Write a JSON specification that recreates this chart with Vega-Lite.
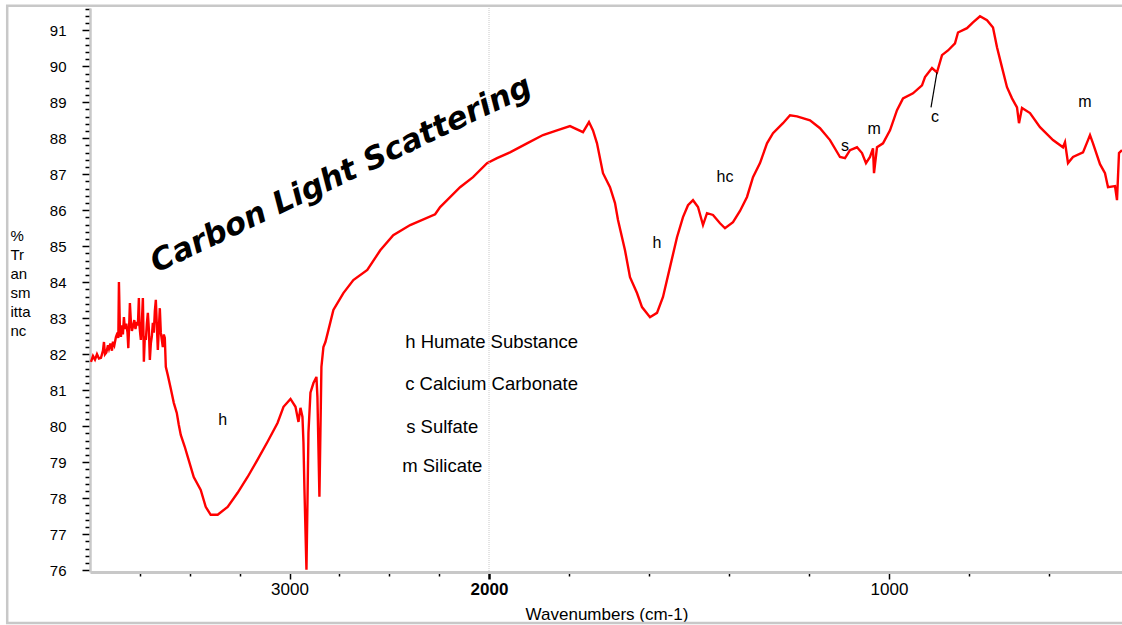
{
  "$schema": "https://vega.github.io/schema/vega-lite/v6.json",
  "width": 1032,
  "height": 564,
  "autosize": {"type": "none"},
  "padding": {"left": 90, "top": 8, "right": 0, "bottom": 53},
  "background": "white",
  "config": {"view": {"stroke": null}, "font": "Liberation Sans"},
  "datasets": {
    "spectrum": [
      {"wn": 3995, "T": 81.79}, {"wn": 3985, "T": 81.95}, {"wn": 3975, "T": 81.85}, {"wn": 3965, "T": 82.0}, {"wn": 3955, "T": 81.88},
      {"wn": 3945, "T": 81.9}, {"wn": 3935, "T": 82.1}, {"wn": 3930, "T": 82.34}, {"wn": 3925, "T": 82.0}, {"wn": 3918, "T": 82.05},
      {"wn": 3910, "T": 82.25}, {"wn": 3905, "T": 82.15}, {"wn": 3898, "T": 82.3}, {"wn": 3890, "T": 82.1}, {"wn": 3885, "T": 82.35},
      {"wn": 3878, "T": 82.25}, {"wn": 3870, "T": 82.48}, {"wn": 3862, "T": 82.6}, {"wn": 3858, "T": 82.45}, {"wn": 3855, "T": 84.01},
      {"wn": 3850, "T": 82.7}, {"wn": 3845, "T": 82.48}, {"wn": 3840, "T": 82.8}, {"wn": 3835, "T": 82.55}, {"wn": 3830, "T": 83.03},
      {"wn": 3825, "T": 82.7}, {"wn": 3818, "T": 82.85}, {"wn": 3812, "T": 82.6}, {"wn": 3808, "T": 82.17}, {"wn": 3804, "T": 82.75},
      {"wn": 3800, "T": 83.42}, {"wn": 3795, "T": 82.9}, {"wn": 3790, "T": 82.65}, {"wn": 3785, "T": 82.76}, {"wn": 3778, "T": 82.95},
      {"wn": 3772, "T": 82.7}, {"wn": 3766, "T": 82.9}, {"wn": 3760, "T": 82.8}, {"wn": 3755, "T": 83.56}, {"wn": 3752, "T": 82.8},
      {"wn": 3748, "T": 82.55}, {"wn": 3745, "T": 82.4}, {"wn": 3740, "T": 82.9}, {"wn": 3735, "T": 83.56}, {"wn": 3732, "T": 82.6},
      {"wn": 3730, "T": 81.79}, {"wn": 3725, "T": 82.5}, {"wn": 3720, "T": 82.4}, {"wn": 3715, "T": 82.85}, {"wn": 3710, "T": 83.15},
      {"wn": 3705, "T": 82.7}, {"wn": 3700, "T": 81.84}, {"wn": 3695, "T": 82.3}, {"wn": 3690, "T": 82.5}, {"wn": 3685, "T": 82.87},
      {"wn": 3680, "T": 82.6}, {"wn": 3675, "T": 83.2}, {"wn": 3670, "T": 83.51}, {"wn": 3665, "T": 82.8}, {"wn": 3660, "T": 82.12},
      {"wn": 3655, "T": 82.7}, {"wn": 3650, "T": 83.28}, {"wn": 3645, "T": 82.6}, {"wn": 3640, "T": 82.4}, {"wn": 3635, "T": 82.2},
      {"wn": 3630, "T": 82.55}, {"wn": 3625, "T": 82.45}, {"wn": 3620, "T": 81.65}, {"wn": 3610, "T": 81.42}, {"wn": 3595, "T": 81.04},
      {"wn": 3580, "T": 80.65}, {"wn": 3565, "T": 80.37}, {"wn": 3555, "T": 80.04}, {"wn": 3545, "T": 79.76}, {"wn": 3525, "T": 79.43},
      {"wn": 3510, "T": 79.15}, {"wn": 3480, "T": 78.59}, {"wn": 3445, "T": 78.23}, {"wn": 3420, "T": 77.76}, {"wn": 3395, "T": 77.54},
      {"wn": 3360, "T": 77.54}, {"wn": 3310, "T": 77.76}, {"wn": 3260, "T": 78.15}, {"wn": 3210, "T": 78.59}, {"wn": 3160, "T": 79.07},
      {"wn": 3110, "T": 79.57}, {"wn": 3060, "T": 80.09}, {"wn": 3030, "T": 80.54}, {"wn": 2995, "T": 80.76}, {"wn": 2970, "T": 80.54},
      {"wn": 2955, "T": 80.12}, {"wn": 2945, "T": 80.51}, {"wn": 2935, "T": 80.26}, {"wn": 2930, "T": 79.54}, {"wn": 2925, "T": 78.23},
      {"wn": 2915, "T": 76.01}, {"wn": 2910, "T": 77.87}, {"wn": 2905, "T": 79.82}, {"wn": 2895, "T": 80.93}, {"wn": 2880, "T": 81.2},
      {"wn": 2865, "T": 81.37}, {"wn": 2860, "T": 80.81}, {"wn": 2850, "T": 78.04}, {"wn": 2840, "T": 81.65}, {"wn": 2830, "T": 82.2},
      {"wn": 2820, "T": 82.34}, {"wn": 2805, "T": 82.67}, {"wn": 2780, "T": 83.23}, {"wn": 2730, "T": 83.7}, {"wn": 2680, "T": 84.06},
      {"wn": 2610, "T": 84.34}, {"wn": 2545, "T": 84.89}, {"wn": 2480, "T": 85.31}, {"wn": 2395, "T": 85.59}, {"wn": 2270, "T": 85.89},
      {"wn": 2245, "T": 86.09}, {"wn": 2210, "T": 86.28}, {"wn": 2145, "T": 86.64}, {"wn": 2080, "T": 86.92}, {"wn": 2010, "T": 87.31},
      {"wn": 1980, "T": 87.45}, {"wn": 1947.5, "T": 87.61}, {"wn": 1905, "T": 87.86}, {"wn": 1865, "T": 88.09}, {"wn": 1830, "T": 88.22},
      {"wn": 1797.5, "T": 88.34}, {"wn": 1765, "T": 88.17}, {"wn": 1750, "T": 88.45}, {"wn": 1740, "T": 88.22}, {"wn": 1730, "T": 87.86},
      {"wn": 1715, "T": 87.03}, {"wn": 1697.5, "T": 86.64}, {"wn": 1685, "T": 86.2}, {"wn": 1677.5, "T": 85.73}, {"wn": 1660, "T": 84.89},
      {"wn": 1647.5, "T": 84.14}, {"wn": 1630, "T": 83.7}, {"wn": 1617.5, "T": 83.31}, {"wn": 1597.5, "T": 83.03}, {"wn": 1580, "T": 83.15},
      {"wn": 1565, "T": 83.59}, {"wn": 1547.5, "T": 84.42}, {"wn": 1530, "T": 85.25}, {"wn": 1515, "T": 85.81}, {"wn": 1502.5, "T": 86.14},
      {"wn": 1490, "T": 86.28}, {"wn": 1477.5, "T": 86.09}, {"wn": 1465, "T": 85.59}, {"wn": 1455, "T": 85.92}, {"wn": 1440, "T": 85.87},
      {"wn": 1422.5, "T": 85.64}, {"wn": 1410, "T": 85.5}, {"wn": 1390, "T": 85.67}, {"wn": 1372.5, "T": 85.98}, {"wn": 1355, "T": 86.37},
      {"wn": 1340, "T": 86.92}, {"wn": 1322.5, "T": 87.31}, {"wn": 1305, "T": 87.86}, {"wn": 1290, "T": 88.14}, {"wn": 1265, "T": 88.42},
      {"wn": 1247.5, "T": 88.64}, {"wn": 1230, "T": 88.61}, {"wn": 1197.5, "T": 88.5}, {"wn": 1172.5, "T": 88.28}, {"wn": 1147.5, "T": 87.95},
      {"wn": 1122.5, "T": 87.48}, {"wn": 1110, "T": 87.45}, {"wn": 1097.5, "T": 87.67}, {"wn": 1080, "T": 87.75}, {"wn": 1067.5, "T": 87.59},
      {"wn": 1057.5, "T": 87.31}, {"wn": 1047.5, "T": 87.48}, {"wn": 1040, "T": 87.72}, {"wn": 1037.5, "T": 87.03}, {"wn": 1030, "T": 87.75},
      {"wn": 1015, "T": 87.86}, {"wn": 997.5, "T": 88.22}, {"wn": 980, "T": 88.78}, {"wn": 965, "T": 89.11}, {"wn": 940, "T": 89.25},
      {"wn": 917.5, "T": 89.47}, {"wn": 910, "T": 89.7}, {"wn": 892.5, "T": 89.95}, {"wn": 880, "T": 89.83}, {"wn": 867.5, "T": 90.31},
      {"wn": 852.5, "T": 90.44}, {"wn": 835, "T": 90.64}, {"wn": 827.5, "T": 90.94}, {"wn": 805, "T": 91.06}, {"wn": 790, "T": 91.22},
      {"wn": 772.5, "T": 91.39}, {"wn": 755, "T": 91.28}, {"wn": 740, "T": 91.08}, {"wn": 730, "T": 90.53}, {"wn": 717.5, "T": 89.97},
      {"wn": 705, "T": 89.42}, {"wn": 692.5, "T": 89.11}, {"wn": 680, "T": 88.86}, {"wn": 675, "T": 88.42}, {"wn": 667.5, "T": 88.84},
      {"wn": 647.5, "T": 88.7}, {"wn": 622.5, "T": 88.31}, {"wn": 590, "T": 87.95}, {"wn": 565, "T": 87.75}, {"wn": 560, "T": 87.89},
      {"wn": 552.5, "T": 87.31}, {"wn": 540, "T": 87.48}, {"wn": 515, "T": 87.61}, {"wn": 502.5, "T": 87.95}, {"wn": 497.5, "T": 88.09},
      {"wn": 490, "T": 87.86}, {"wn": 472.5, "T": 87.28}, {"wn": 460, "T": 87.03}, {"wn": 452.5, "T": 86.64}, {"wn": 435, "T": 86.67},
      {"wn": 430, "T": 86.28}, {"wn": 425, "T": 87.59}, {"wn": 417.5, "T": 87.67}
    ],
    "peaks": [
      {"wn": 3335, "T": 80.18, "label": "h"},
      {"wn": 1580, "T": 85.09, "label": "h"},
      {"wn": 1410, "T": 86.92, "label": "hc"},
      {"wn": 1110, "T": 87.78, "label": "s"},
      {"wn": 1037, "T": 88.25, "label": "m"},
      {"wn": 885, "T": 88.59, "label": "c"},
      {"wn": 510, "T": 89.0, "label": "m"}
    ],
    "key": [
      {"wn": 2420, "T": 82.34, "label": "h Humate Substance"},
      {"wn": 2420, "T": 81.17, "label": "c Calcium Carbonate"},
      {"wn": 2415, "T": 79.98, "label": "s Sulfate"},
      {"wn": 2435, "T": 78.89, "label": "m Silicate"}
    ],
    "note": [
      {"wn": 2740, "T": 86.98, "label": "Carbon Light Scattering"}
    ]
  },
  "layer": [
    {
      "data": {"name": "spectrum"},
      "mark": {"type": "line", "color": "#ff0000", "strokeWidth": 2.4, "clip": false},
      "encoding": {
        "x": {
          "field": "wn", "type": "quantitative",
          "scale": {"domain": [4000, 2000, 415], "range": [0, 399, 1033], "nice": false, "zero": false},
          "axis": {
            "title": "Wavenumbers (cm-1)",
            "titleFont": "Liberation Sans", "titleFontSize": 17, "titleFontWeight": "normal", "titleColor": "black",
            "titlePadding": 9,
            "values": [3750, 3500, 3250, 3000, 2750, 2500, 2250, 2000, 1800, 1600, 1400, 1200, 1000, 800, 600],
            "tickCount": 100,
            "format": "d",
            "labelExpr": "indexof([3000, 2000, 1000], datum.value) >= 0 ? datum.label : ''",
            "labelFont": "Liberation Sans", "labelFontSize": 17, "labelColor": "black",
            "labelFontWeight": {"condition": {"test": "datum.value === 2000", "value": "bold"}, "value": "normal"},
            "labelPadding": 2, "labelFlush": false, "labelOverlap": false, "labelBound": false,
            "grid": false,
            "domainColor": "#c8c8c8", "domainWidth": 3,
            "tickColor": "black",
            "tickSize": {"condition": {"test": "indexof([3000, 2000, 1000], datum.value) >= 0", "value": 7}, "value": 4},
            "tickWidth": {"condition": {"test": "datum.value === 2000", "value": 2.5}, "value": 1.5}
          }
        },
        "y": {
          "field": "T", "type": "quantitative",
          "scale": {"domain": [75.95, 91.62], "nice": false, "zero": false},
          "axis": {
            "title": ["%", "Tr", "an", "sm", "itta", "nc"],
            "titleAngle": 0, "titleAlign": "left", "titleBaseline": "top",
            "titleX": -80, "titleY": 220, "titleLineHeight": 19,
            "titleFont": "Liberation Sans", "titleFontSize": 15, "titleFontWeight": "normal", "titleColor": "black",
            "values": [76, 76.2, 76.4, 76.6, 76.8, 77, 77.2, 77.4, 77.6, 77.8, 78, 78.2, 78.4, 78.6, 78.8, 79, 79.2, 79.4, 79.6, 79.8, 80, 80.2, 80.4, 80.6, 80.8, 81, 81.2, 81.4, 81.6, 81.8, 82, 82.2, 82.4, 82.6, 82.8, 83, 83.2, 83.4, 83.6, 83.8, 84, 84.2, 84.4, 84.6, 84.8, 85, 85.2, 85.4, 85.6, 85.8, 86, 86.2, 86.4, 86.6, 86.8, 87, 87.2, 87.4, 87.6, 87.8, 88, 88.2, 88.4, 88.6, 88.8, 89, 89.2, 89.4, 89.6, 89.8, 90, 90.2, 90.4, 90.6, 90.8, 91, 91.2, 91.4, 91.6],
            "tickCount": 200,
            "format": ".0f",
            "labelExpr": "datum.value === round(datum.value) ? datum.label : ''",
            "labelFont": "Liberation Sans", "labelFontSize": 15, "labelColor": "black",
            "labelPadding": 16, "labelOverlap": false, "labelFlush": false, "labelBound": false,
            "grid": false,
            "domainColor": "#c8c8c8", "domainWidth": 2.5,
            "tickColor": "black", "tickWidth": 1.5,
            "tickSize": {"condition": {"test": "datum.value === round(datum.value)", "value": 8}, "value": 5}
          }
        }
      }
    },
    {
      "data": {"values": [{}]},
      "mark": {"type": "rect", "fillOpacity": 0, "stroke": "#c8c8c8", "strokeWidth": 2.5, "clip": false},
      "encoding": {
        "x": {"datum": 4415, "type": "quantitative"},
        "x2": {"datum": 380},
        "y": {"datum": 91.68, "type": "quantitative"},
        "y2": {"datum": 74.53}
      }
    },
    {
      "data": {"values": [{}]},
      "mark": {"type": "rule", "color": "#c8c8c8", "strokeWidth": 1, "strokeDash": [1, 1]},
      "encoding": {
        "x": {"datum": 2000, "type": "quantitative"}
      }
    },
    {
      "data": {"values": [{}]},
      "mark": {"type": "rule", "color": "black", "strokeWidth": 1.2},
      "encoding": {
        "x": {"datum": 895, "type": "quantitative"},
        "y": {"datum": 88.86, "type": "quantitative"},
        "x2": {"datum": 880},
        "y2": {"datum": 89.84}
      }
    },
    {
      "data": {"name": "peaks"},
      "mark": {"type": "text", "font": "Liberation Sans", "fontSize": 16, "color": "black", "align": "center", "baseline": "middle"},
      "encoding": {
        "x": {"field": "wn", "type": "quantitative"},
        "y": {"field": "T", "type": "quantitative"},
        "text": {"field": "label"}
      }
    },
    {
      "data": {"name": "key"},
      "mark": {"type": "text", "font": "Liberation Sans", "fontSize": 18.5, "color": "black", "align": "left", "baseline": "middle"},
      "encoding": {
        "x": {"field": "wn", "type": "quantitative"},
        "y": {"field": "T", "type": "quantitative"},
        "text": {"field": "label"}
      }
    },
    {
      "data": {"name": "note"},
      "mark": {"type": "text", "font": "DejaVu Sans", "fontSize": 31, "fontWeight": "bold", "fontStyle": "italic", "color": "black", "align": "center", "baseline": "middle", "angle": -25.5},
      "encoding": {
        "x": {"field": "wn", "type": "quantitative"},
        "y": {"field": "T", "type": "quantitative"},
        "text": {"field": "label"}
      }
    }
  ]
}
